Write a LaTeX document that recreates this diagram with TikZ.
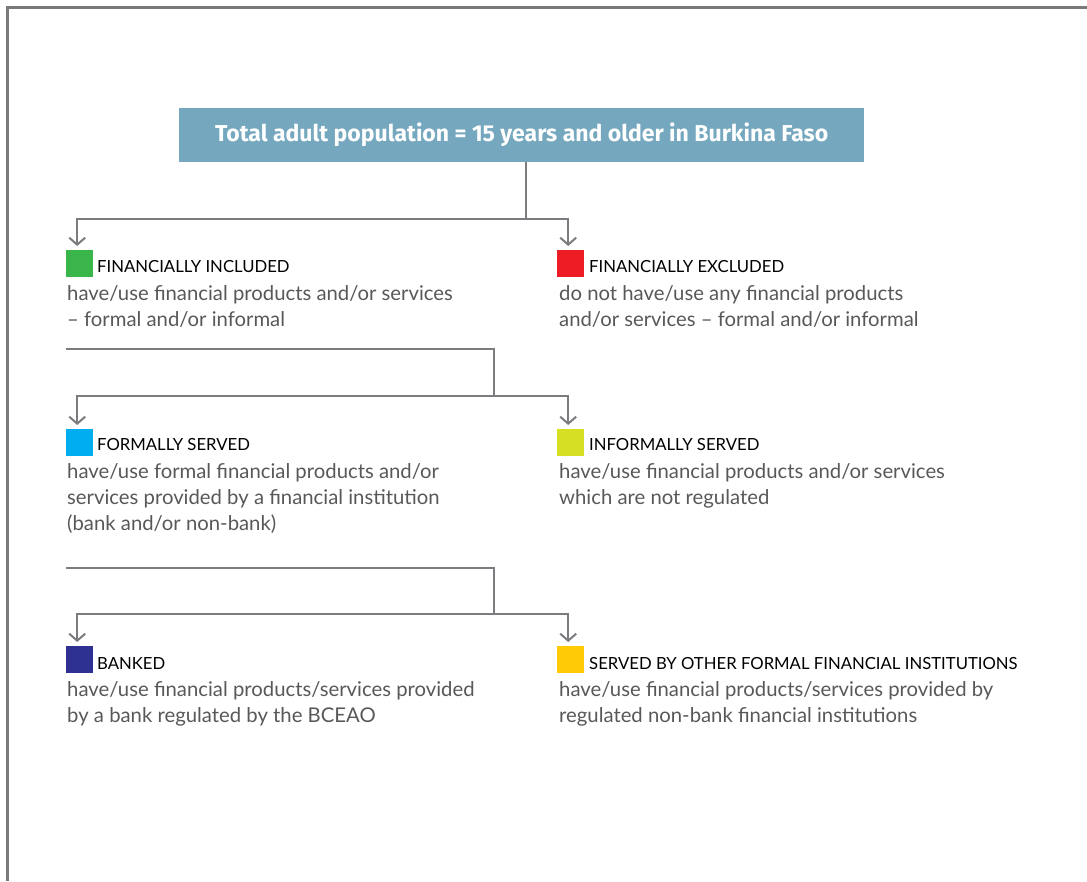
\documentclass[tikz,border=0pt]{standalone}
\usepackage{fontspec}
\setmainfont{Lato}
\newfontfamily\titlefont{Fira Sans}
\usetikzlibrary{arrows.meta}
\definecolor{framegray}{HTML}{7A7A7A}
\definecolor{linegray}{HTML}{7B7B80}
\definecolor{titleblue}{HTML}{75A8BF}
\definecolor{bodygray}{HTML}{58585A}
\definecolor{incgreen}{HTML}{3AB54A}
\definecolor{excred}{HTML}{EE1C25}
\definecolor{formcyan}{HTML}{00AEEF}
\definecolor{infyellow}{HTML}{D7DF23}
\definecolor{banknavy}{HTML}{2E3192}
\definecolor{otheryellow}{HTML}{FFCB05}
\tikzset{
  titlebox/.style={fill=titleblue, text=white, inner sep=0pt, minimum width=685pt, minimum height=54pt,
    font=\titlefont\bfseries\fontsize{23}{26}\selectfont},
  sq/.style={inner sep=0pt, minimum size=27pt, anchor=north west},
  lbl/.style={anchor=base west, inner sep=0pt, text=black, font=\fontsize{16.7}{20}\selectfont},
  body/.style={anchor=north west, inner sep=0pt, text=bodygray, align=left, font=\fontsize{20.3}{26}\selectfont},
  conn/.style={draw=linegray, line width=2pt},
  arr/.style={conn, -{Straight Barb[length=7pt,width=16pt]}, shorten >=4pt}
}
\begin{document}
\begin{tikzpicture}[x=1pt,y=-1pt]
\useasboundingbox (0,0) rectangle (1087,881);
\draw[framegray, line width=2.5pt] (7.5,881) -- (7.5,7.5) -- (1087,7.5);

\node[titlebox, anchor=north west] (title) at (179,108) {\raisebox{-2pt}{Total adult population = 15 years and older in Burkina Faso}};

% row 1
\node[sq, fill=incgreen] (incsq) at (66,250) {};
\node[lbl] (inclbl) at (97,272) {FINANCIALLY INCLUDED};
\node[body] (incbody) at (67,285) {have/use financial products and/or services\\– formal and/or informal};
\node[sq, fill=excred] (excsq) at (557,250) {};
\node[lbl] (exclbl) at (589,272) {FINANCIALLY EXCLUDED};
\node[body] (excbody) at (559,285) {do not have/use any financial products\\and/or services – formal and/or informal};

% row 2
\node[sq, fill=formcyan] (formsq) at (66,429) {};
\node[lbl] (formlbl) at (97,450) {FORMALLY SERVED};
\node[body] (formbody) at (67,463) {have/use formal financial products and/or\\services provided by a financial institution\\(bank and/or non-bank)};
\node[sq, fill=infyellow] (infsq) at (557,429) {};
\node[lbl] (inflbl) at (589,450) {INFORMALLY SERVED};
\node[body] (infbody) at (559,463) {have/use financial products and/or services\\which are not regulated};

% row 3
\node[sq, fill=banknavy] (banksq) at (66,646) {};
\node[lbl] (banklbl) at (97,669) {BANKED};
\node[body] (bankbody) at (67,681) {have/use financial products/services provided\\by a bank regulated by the BCEAO};
\node[sq, fill=otheryellow] (othsq) at (557,646) {};
\node[lbl] (othlbl) at (589,669) {SERVED BY OTHER FORMAL FINANCIAL INSTITUTIONS};
\node[body] (othbody) at (559,681) {have/use financial products/services provided by\\regulated non-bank financial institutions};

% connectors
\coordinate (j1) at (526,219);
\draw[conn] (title.south -| j1) -- (j1);
\draw[arr] (j1) -| ([xshift=-2.5pt]incsq.north);
\draw[arr] (j1) -| ([xshift=-2.5pt]excsq.north);

\coordinate (s2) at (66,349);
\coordinate (j2) at (494,396);
\draw[conn] (s2) -| (j2);
\draw[arr] (j2) -| ([xshift=-2.5pt]formsq.north);
\draw[arr] (j2) -| ([xshift=-2.5pt]infsq.north);

\coordinate (s3) at (66,568);
\coordinate (j3) at (494,614);
\draw[conn] (s3) -| (j3);
\draw[arr] (j3) -| ([xshift=-2.5pt]banksq.north);
\draw[arr] (j3) -| ([xshift=-2.5pt]othsq.north);
\end{tikzpicture}
\end{document}
